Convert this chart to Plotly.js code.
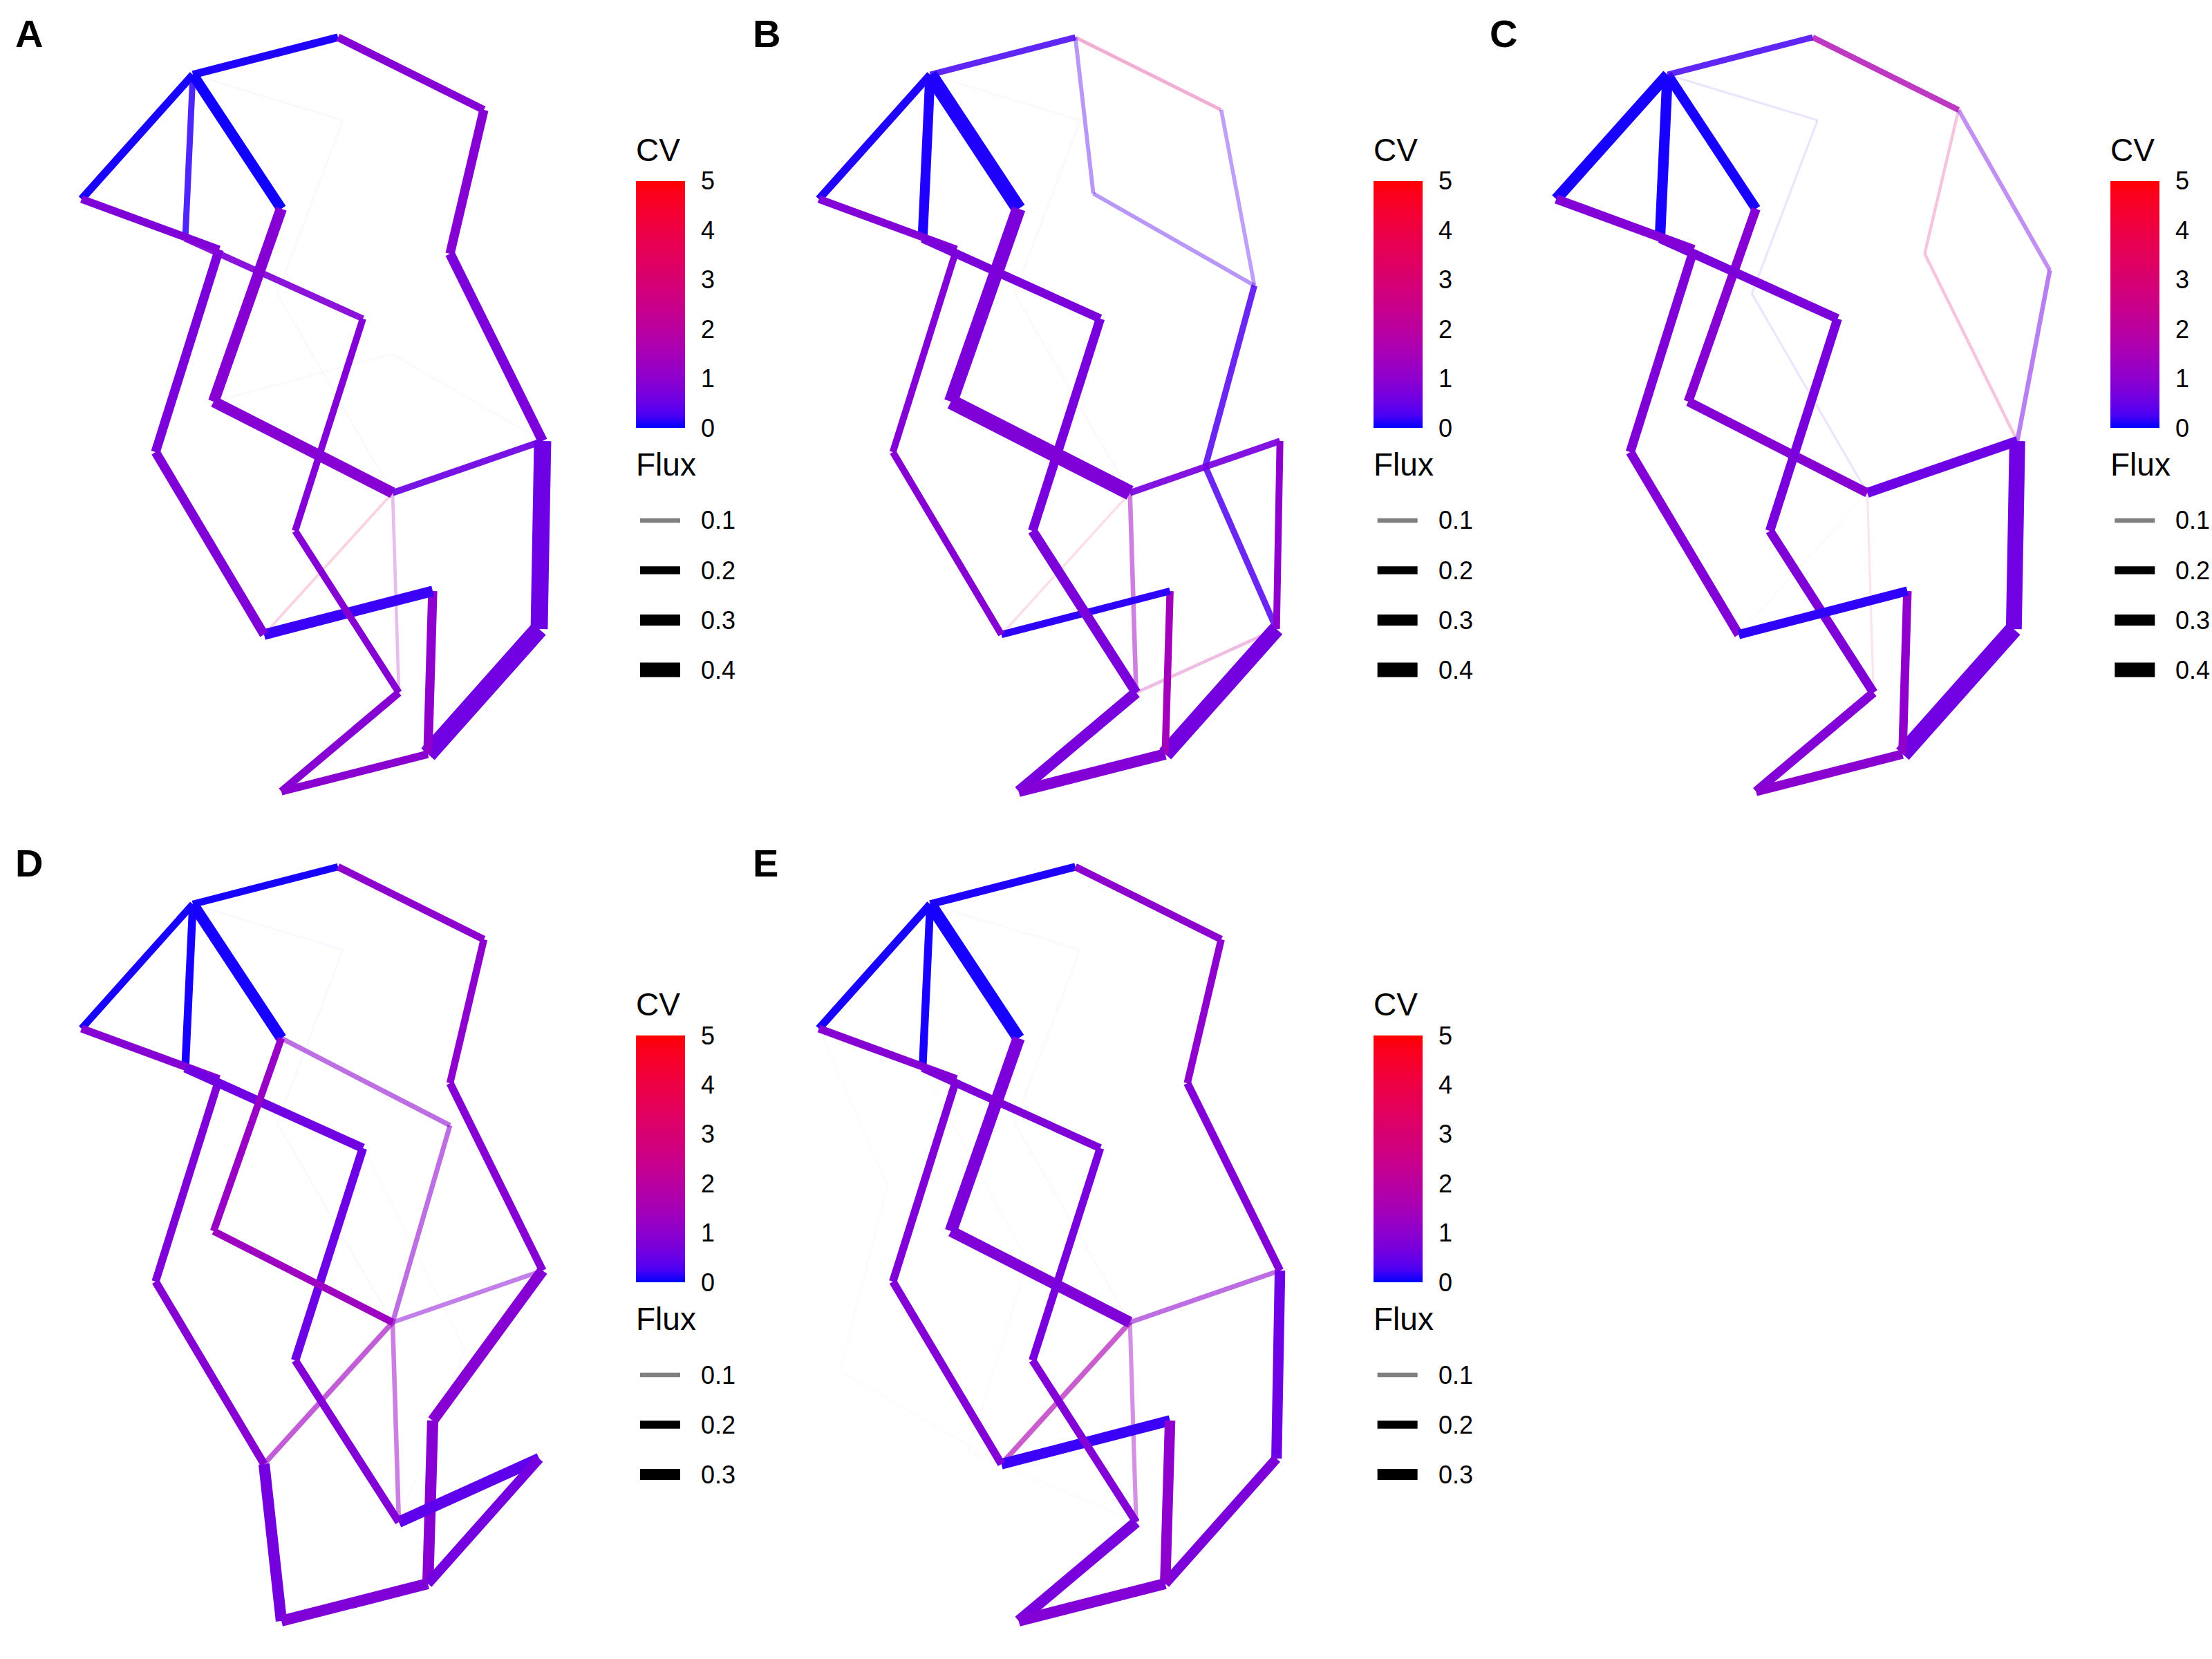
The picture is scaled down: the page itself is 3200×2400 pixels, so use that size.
<!DOCTYPE html>
<html><head><meta charset="utf-8">
<script src="https://cdn.plot.ly/plotly-3.0.1.min.js"></script>
<style>html,body{margin:0;padding:0;background:#fff}</style>
</head><body><div id="chart" style="width:3200px;height:2400px"></div>
<script>
// ---- node layout (network coordinates, shared by all panels) ----
const nodeX = [279,489,700,651,785,780,619,626,382,225,317,268,118,407,309,568,525,427,577,407,496,401,567,515,748,677,832,651,673,420,334,217,148];
const nodeY = [108,54,159,367,638,910,1091,855,918,654,361,345,288,302,581,713,461,768,1002,1145,174,425,512,280,413,675,391,428,752,626,899,516,784];

const panelLabels = ['A','B','C','D','E'];

// ---- edges per panel: from node, to node, CV, Flux ----
const fromA = [1,21,22,15,23,16,16,13,1,1,1,2,3,4,5,6,8,8,9,11,13,12,14,15,16,17,18,19,20];
const toA   = [21,22,16,23,5,9,19,1,2,12,14,3,4,5,6,7,7,9,10,10,11,17,15,16,5,18,19,20,7];
const cvA   = [1.0,1.0,1.0,3.0,3.0,3.5,1.4,0.03,0.05,0.1,0.02,0.9,0.9,0.75,0.55,0.6,1.0,0.15,0.8,0.75,0.8,0.85,0.9,0.9,0.55,0.85,0.9,0.9,0.95];
const fluxA = [0.012,0.012,0.012,0.012,0.012,0.045,0.06,0.2,0.2,0.15,0.28,0.2,0.24,0.26,0.48,0.5,0.24,0.28,0.24,0.24,0.2,0.16,0.3,0.3,0.16,0.17,0.17,0.2,0.2];

const fromB = [1,21,22,16,6,2,2,24,3,16,13,1,1,1,25,26,16,5,6,8,8,9,11,13,12,17,18,19,20,14,15];
const toB   = [21,22,16,9,19,3,24,25,25,19,1,2,12,14,26,6,5,6,7,7,9,10,10,11,17,18,19,20,7,15,16];
const cvB   = [2.0,2.0,2.0,3.5,2.2,3.0,0.3,0.3,0.3,1.3,0.05,0.2,0.05,0.05,0.3,0.3,0.7,1.0,0.65,1.4,0.1,0.9,0.85,0.85,0.75,0.7,0.75,0.7,0.85,0.75,0.8];
const fluxB = [0.012,0.012,0.012,0.035,0.06,0.07,0.085,0.085,0.08,0.1,0.2,0.15,0.26,0.4,0.15,0.15,0.16,0.17,0.44,0.18,0.18,0.17,0.17,0.2,0.22,0.24,0.26,0.3,0.3,0.38,0.42];

const fromC = [1,21,22,16,16,3,4,3,27,13,1,1,1,2,5,6,16,15,14,12,13,11,9,17,18,19,20,8,8];
const toC   = [21,22,16,19,9,4,5,27,5,1,12,14,2,3,6,7,5,16,15,17,11,10,10,18,19,20,7,7,9];
const cvC   = [0.3,0.3,0.3,3.0,2.0,3.0,3.0,0.6,0.6,0.03,0.03,0.03,0.2,1.6,0.6,0.6,0.55,0.9,0.9,0.75,0.85,0.8,0.85,0.7,0.8,0.85,0.95,1.05,0.1];
const fluxC = [0.03,0.03,0.03,0.03,0.01,0.055,0.055,0.09,0.1,0.3,0.28,0.26,0.15,0.14,0.44,0.48,0.26,0.24,0.24,0.24,0.24,0.24,0.24,0.24,0.24,0.24,0.24,0.22,0.24];

const fromD = [1,21,22,17,29,16,16,5,14,28,13,1,1,1,2,3,4,5,8,19,6,9,20,9,11,13,12,17,18,14,15];
const toD   = [21,22,16,29,19,9,19,16,28,16,1,2,12,14,3,4,5,8,7,6,7,20,7,10,10,11,17,18,19,15,16];
const cvD   = [0.5,0.5,0.5,0.5,0.5,1.3,1.2,0.9,1.0,1.0,0.03,0.03,0.03,0.03,1.0,1.0,0.9,0.9,0.9,0.4,0.65,0.65,0.8,0.9,0.8,0.9,0.6,0.55,0.85,1.2,1.3];
const fluxD = [0.012,0.012,0.012,0.01,0.01,0.12,0.1,0.1,0.11,0.11,0.18,0.18,0.2,0.3,0.18,0.18,0.2,0.3,0.3,0.3,0.26,0.3,0.3,0.2,0.2,0.2,0.24,0.22,0.2,0.18,0.18];

const fromE = [1,21,22,12,30,31,13,32,33,16,16,5,13,1,1,1,2,3,4,5,6,15,14,8,8,9,11,13,12,17,18,19,20];
const toE   = [21,22,16,30,31,19,32,33,9,9,19,16,1,2,12,14,3,4,5,6,7,16,15,9,7,10,10,11,17,18,19,20,7];
const cvE   = [3.0,3.0,3.0,3.5,3.5,3.5,3.5,3.5,3.5,1.6,1.3,1.0,0.03,0.05,0.03,0.03,1.0,1.0,0.85,0.55,0.75,0.8,0.75,0.15,1.0,0.85,0.8,0.9,0.8,0.7,0.85,0.7,0.85];
const fluxE = [0.012,0.012,0.012,0.01,0.01,0.01,0.008,0.008,0.008,0.12,0.09,0.11,0.2,0.2,0.2,0.34,0.18,0.18,0.2,0.28,0.26,0.3,0.34,0.28,0.28,0.2,0.2,0.2,0.2,0.2,0.2,0.3,0.3];

// ---- legend scales ----
const cvTicks = [0,1,2,3,4,5];
const fluxBreaksABC = [0.1,0.2,0.3,0.4];
const fluxBreaksDE = [0.1,0.2,0.3];

const panels = [
  {from:fromA,to:toA,cv:cvA,flux:fluxA,breaks:fluxBreaksABC},
  {from:fromB,to:toB,cv:cvB,flux:fluxB,breaks:fluxBreaksABC},
  {from:fromC,to:toC,cv:cvC,flux:fluxC,breaks:fluxBreaksABC},
  {from:fromD,to:toD,cv:cvD,flux:fluxD,breaks:fluxBreaksDE},
  {from:fromE,to:toE,cv:cvE,flux:fluxE,breaks:fluxBreaksDE}
];

// ---- colour: Lab interpolation blue -> red (CV 0..5) ----
function lin(c){c/=255;return c<=0.04045?c/12.92:Math.pow((c+0.055)/1.055,2.4);}
function gam(c){c=c<=0.0031308?12.92*c:1.055*Math.pow(c,1/2.4)-0.055;return Math.max(0,Math.min(255,Math.round(c*255)));}
const Xn=0.95047,Yn=1,Zn=1.08883,d=6/29;
function f(t){return t>d*d*d?Math.cbrt(t):t/(3*d*d)+4/29;}
function finv(t){return t>d?t*t*t:3*d*d*(t-4/29);}
function toLab(rgb){const r=lin(rgb[0]),g=lin(rgb[1]),b=lin(rgb[2]);
  const X=0.4124564*r+0.3575761*g+0.1804375*b,Y=0.2126729*r+0.7151522*g+0.0721750*b,Z=0.0193339*r+0.1191920*g+0.9503041*b;
  const fx=f(X/Xn),fy=f(Y/Yn),fz=f(Z/Zn);return [116*fy-16,500*(fx-fy),200*(fy-fz)];}
function fromLab(lab){const fy=(lab[0]+16)/116,fx=fy+lab[1]/500,fz=fy-lab[2]/200;
  const X=Xn*finv(fx),Y=Yn*finv(fy),Z=Zn*finv(fz);
  const r=3.2404542*X-1.5371385*Y-0.4985314*Z,g=-0.9692660*X+1.8760108*Y+0.0415560*Z,b=0.0556434*X-0.2040259*Y+1.0572252*Z;
  return [gam(r),gam(g),gam(b)];}
const labLow=toLab([0,0,255]),labHigh=toLab([255,0,0]);
const cvMax=5;
function cvRGB(v){const t=Math.max(0,Math.min(1,v/cvMax));return fromLab([0,1,2].map(k=>labLow[k]+(labHigh[k]-labLow[k])*t));}
const colorscale=[];for(let i=0;i<=20;i++){const c=cvRGB(i/20*cvMax);colorscale.push([i/20,`rgb(${c[0]},${c[1]},${c[2]})`]);}

// ---- flux: width & alpha ----
function fluxWidth(fl){return 1.8+48*fl;}
function fluxAlpha(fl){return Math.max(0.02,Math.min(1,Math.pow(fl/0.17,1.3)));}

const FONT='Liberation Sans, Arial, Helvetica, sans-serif';
const W=3200,H=2400,cellW=W/3,cellH=H/2;
const px=x=>x/W, py=y=>1-y/H;

const traces=[];const shapes=[];const annotations=[];
const layout={width:W,height:H,margin:{l:0,r:0,t:0,b:0},paper_bgcolor:'#fff',plot_bgcolor:'rgba(0,0,0,0)',showlegend:false,font:{family:FONT,color:'#000'}};

panels.forEach((p,i)=>{
  const col=i%3,row=Math.floor(i/3);
  const cx=col*cellW, cy=row*cellH;
  const sfx=i===0?'':String(i+1);
  layout['xaxis'+sfx]={domain:[col/3,(col+1)/3],range:[0,cellW],visible:false,fixedrange:true,anchor:'y'+sfx};
  layout['yaxis'+sfx]={domain:[1-(row+1)/2,1-row/2],range:[cellH,0],visible:false,fixedrange:true,anchor:'x'+sfx};
  for(let k=0;k<p.from.length;k++){
    const a=p.from[k]-1,b=p.to[k]-1;const c=cvRGB(p.cv[k]);
    traces.push({type:'scatter',mode:'lines',xaxis:'x'+sfx,yaxis:'y'+sfx,
      x:[nodeX[a],nodeX[b]],y:[nodeY[a],nodeY[b]],hoverinfo:'skip',
      line:{width:fluxWidth(p.flux[k]),color:`rgba(${c[0]},${c[1]},${c[2]},${fluxAlpha(p.flux[k]).toFixed(3)})`}});
  }
  const dy=p.breaks.length===4?0:36;
  const barTop=cy+262+dy,barLen=357,barX=cx+920,barW=71;
  traces.push({type:'scatter',mode:'markers',xaxis:'x'+sfx,yaxis:'y'+sfx,x:[nodeX[0]],y:[nodeY[0]],hoverinfo:'skip',
    marker:{size:1,opacity:0,color:[0],cmin:0,cmax:cvMax,colorscale:colorscale,showscale:true,
      colorbar:{x:px(barX),xanchor:'left',xref:'paper',y:py(barTop),yanchor:'top',yref:'paper',
        len:barLen,lenmode:'pixels',thickness:barW,thicknessmode:'pixels',xpad:0,ypad:0,outlinewidth:0,
        tickmode:'array',tickvals:cvTicks,ticks:'',showticklabels:false,title:{text:''}}}});
  cvTicks.forEach(v=>{const yy=barTop+(cvMax-v)/cvMax*barLen;
    shapes.push({type:'line',xref:'paper',yref:'paper',x0:px(barX),x1:px(barX+14),y0:py(yy),y1:py(yy),line:{color:'#fff',width:2}});
    shapes.push({type:'line',xref:'paper',yref:'paper',x0:px(barX+barW-14),x1:px(barX+barW),y0:py(yy),y1:py(yy),line:{color:'#fff',width:2}});
    annotations.push({xref:'paper',yref:'paper',x:px(cx+1012),y:py(yy),xanchor:'left',yanchor:'middle',showarrow:false,text:String(v),font:{size:36,family:FONT}});
  });
  annotations.push({xref:'paper',yref:'paper',x:px(cx+918),y:py(cy+217+dy),xanchor:'left',yanchor:'middle',showarrow:false,text:'CV',font:{size:46,family:FONT}});
  annotations.push({xref:'paper',yref:'paper',x:px(cx+918),y:py(cy+672+dy),xanchor:'left',yanchor:'middle',showarrow:false,text:'Flux',font:{size:46,family:FONT}});
  p.breaks.forEach((fl,k)=>{const yy=cy+753+72*k+dy;
    shapes.push({type:'line',xref:'paper',yref:'paper',x0:px(cx+926),x1:px(cx+984),y0:py(yy),y1:py(yy),line:{color:`rgba(0,0,0,${fluxAlpha(fl).toFixed(3)})`,width:fluxWidth(fl)}});
    annotations.push({xref:'paper',yref:'paper',x:px(cx+1012),y:py(yy),xanchor:'left',yanchor:'middle',showarrow:false,text:fl.toFixed(1),font:{size:36,family:FONT}});
  });
  annotations.push({xref:'paper',yref:'paper',x:px(cx+20),y:py(cy+48),xanchor:'left',yanchor:'middle',showarrow:false,text:'<b>'+panelLabels[i]+'</b>',font:{size:56,family:FONT}});
});
layout.shapes=shapes;layout.annotations=annotations;
Plotly.newPlot('chart',traces,layout,{displayModeBar:false,staticPlot:true});
</script></body></html>
